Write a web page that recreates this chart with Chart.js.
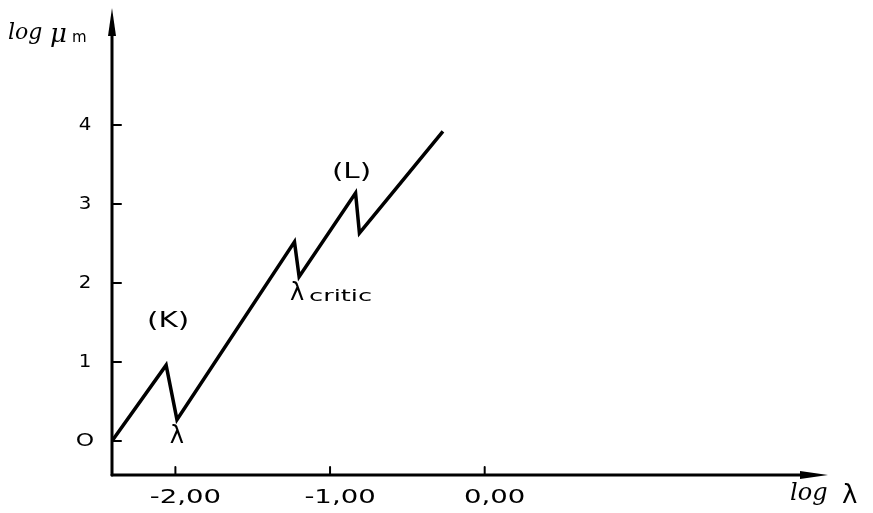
<!DOCTYPE html>
<html>
<head>
<meta charset="utf-8">
<script src="https://cdn.jsdelivr.net/npm/chart.js@4.4.1/dist/chart.umd.min.js"></script>
<style>
  html, body { margin: 0; padding: 0; background: #fff; }
  #wrap { width: 873px; height: 513px; }
</style>
</head>
<body>
<div id="wrap"><canvas id="chart" width="873" height="513"></canvas></div>
<script>
// corners of the curve
const logLambda = [-2.41, -2.06, -1.99, -1.23, -1.20, -0.835, -0.81, -0.27];
const logMu = [0.0, 0.96, 0.27, 2.52, 2.08, 3.14, 2.63, 3.92];

// axis limits (where the arrows end)
const xMin = -2.41, xMax = 2.22;
const yMin = -0.43, yMax = 5.48;

const xTicks = [-2, -1, 0];
const xTickLabels = ['-2,00', '-1,00', '0,00'];
const yTicks = [0, 1, 2, 3, 4];
const yTickLabels = ['O', '1', '2', '3', '4'];

// notes hung on points of the curve
const noteTexts = ['(K)', 'λ', 'λ', '(L)'];
const noteSubs = ['', '', 'critic', ''];
const noteX = [-2.06, -1.99, -1.20, -0.835];
const noteY = [0.96, 0.27, 2.08, 3.14];

const INK = '#000';
const SANS = '"DejaVu Sans", sans-serif';

// the lettering in the drawing is wide and round, so stretch it sideways
function wideText(ctx, txt, px, py, font, sx, align) {
  ctx.save();
  ctx.font = font;
  ctx.textAlign = align || 'center';
  ctx.translate(px, py);
  ctx.scale(sx, 1);
  ctx.fillText(txt, 0, 0);
  ctx.restore();
}

const sketchPlugin = {
  id: 'sketch',
  afterDraw(chart) {
    const { ctx, chartArea: a, scales: { x, y } } = chart;
    ctx.save();
    ctx.strokeStyle = INK;
    ctx.fillStyle = INK;
    ctx.lineCap = 'round';

    // y axis with arrow
    ctx.lineWidth = 3;
    ctx.beginPath();
    ctx.moveTo(a.left, a.bottom);
    ctx.lineTo(a.left, a.top + 20);
    ctx.stroke();
    ctx.beginPath();
    ctx.moveTo(a.left, a.top);
    ctx.lineTo(a.left - 4, a.top + 28);
    ctx.lineTo(a.left + 4, a.top + 28);
    ctx.closePath();
    ctx.fill();

    // x axis with arrow
    ctx.beginPath();
    ctx.moveTo(a.left, a.bottom);
    ctx.lineTo(a.right - 20, a.bottom);
    ctx.stroke();
    ctx.beginPath();
    ctx.moveTo(a.right, a.bottom);
    ctx.lineTo(a.right - 28, a.bottom - 4);
    ctx.lineTo(a.right - 28, a.bottom + 4);
    ctx.closePath();
    ctx.fill();

    // tick marks, drawn inward
    ctx.lineWidth = 2;
    y.ticks.forEach(t => {
      const py = y.getPixelForValue(t.value);
      ctx.beginPath();
      ctx.moveTo(a.left, py);
      ctx.lineTo(a.left + 9, py);
      ctx.stroke();
    });
    x.ticks.forEach(t => {
      const px = x.getPixelForValue(t.value);
      ctx.beginPath();
      ctx.moveTo(px, a.bottom);
      ctx.lineTo(px, a.bottom - 8);
      ctx.stroke();
    });

    // tick labels
    ctx.textBaseline = 'middle';
    y.ticks.forEach((t, i) => {
      const isO = yTickLabels[i] === 'O';
      wideText(ctx, yTickLabels[i], a.left - 27, y.getPixelForValue(t.value),
        (isO ? '18px ' : '18px ') + SANS, isO ? 1.3 : 1.1);
    });
    x.ticks.forEach((t, i) => {
      wideText(ctx, xTickLabels[i], x.getPixelForValue(t.value) + 10, a.bottom + 23,
        '19px ' + SANS, 1.45);
    });

    // notes beside the curve
    const offs = [[0, -44], [0, 17], [0, 17], [-6, -20]];
    noteTexts.forEach((txt, i) => {
      const px = x.getPixelForValue(noteX[i]) + offs[i][0];
      const py = y.getPixelForValue(noteY[i]) + offs[i][1];
      if (noteSubs[i]) {
        wideText(ctx, txt, px - 9, py, '24px ' + SANS, 1, 'left');
        wideText(ctx, noteSubs[i], px + 10, py + 3, '16px ' + SANS, 1.6, 'left');
      } else if (txt === 'λ') {
        wideText(ctx, txt, px, py, '24px ' + SANS, 1);
      } else {
        wideText(ctx, txt, px + 2, py, '21px ' + SANS, 1.4);
      }
    });

    // axis names
    ctx.textAlign = 'left';
    ctx.font = 'italic 24px "DejaVu Serif", serif';
    ctx.fillText('log', 790, 494);
    ctx.font = '26px ' + SANS;
    ctx.fillText('λ', 842, 496);

    ctx.font = 'italic 22px "DejaVu Serif", serif';
    ctx.fillText('log', 8, 33);
    ctx.font = 'italic 26px "DejaVu Serif", serif';
    ctx.fillText('μ', 50, 35);
    ctx.font = '15px ' + SANS;
    ctx.fillText('m', 72, 38);

    ctx.restore();
  }
};

new Chart(document.getElementById('chart'), {
  type: 'line',
  data: {
    datasets: [{
      data: logLambda.map((v, i) => ({ x: v, y: logMu[i] })),
      borderColor: INK,
      borderWidth: 3.5,
      borderJoinStyle: 'miter',
      pointRadius: 0,
      tension: 0,
      fill: false
    }]
  },
  options: {
    responsive: false,
    animation: false,
    layout: { padding: { top: 8, right: 45, left: 0, bottom: 0 } },
    plugins: { legend: { display: false }, tooltip: { enabled: false } },
    scales: {
      x: {
        type: 'linear',
        min: xMin,
        max: xMax,
        afterBuildTicks: s => { s.ticks = xTicks.map(v => ({ value: v })); },
        afterFit: s => { s.height = 38; },
        ticks: { display: false },
        grid: { display: false },
        border: { display: false }
      },
      y: {
        type: 'linear',
        min: yMin,
        max: yMax,
        afterBuildTicks: s => { s.ticks = yTicks.map(v => ({ value: v })); },
        afterFit: s => { s.width = 112; },
        ticks: { display: false },
        grid: { display: false },
        border: { display: false }
      }
    }
  },
  plugins: [sketchPlugin]
});
</script>
</body>
</html>
